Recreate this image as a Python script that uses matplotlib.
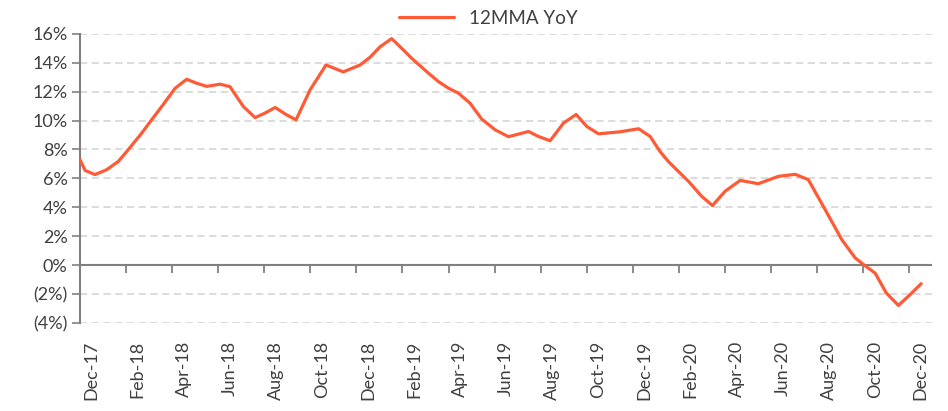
import matplotlib.pyplot as plt

# months since end of Nov-2017 (Dec-17 = 0.5, Dec-20 = 36.5)
month_pos = [0.00, 0.22, 0.65, 1.16, 1.66, 2.03, 2.68, 3.11, 3.55, 4.13,
             4.63, 5.06, 5.50, 6.08, 6.51, 7.09, 7.60, 8.03, 8.47, 8.97,
             9.38, 9.99, 10.68, 11.43, 12.16, 12.59, 13.03, 13.53, 13.96, 14.40,
             15.05, 15.56, 16.00, 16.43, 16.93, 17.44, 18.02, 18.60, 19.47, 19.90,
             20.41, 20.99, 21.54, 22.00, 22.51, 23.45, 24.25, 24.75, 25.18, 25.54,
             26.42, 26.99, 27.46, 28.00, 28.66, 29.45, 30.32, 31.05, 31.62, 32.35,
             33.07, 33.65, 34.01, 34.52, 35.00, 35.53, 35.97, 36.52]
yoy = [7.29, 6.55, 6.26, 6.60, 7.17, 7.86, 9.13, 10.05, 10.97, 12.23,
       12.85, 12.58, 12.36, 12.51, 12.34, 10.97, 10.20, 10.51, 10.90, 10.39,
       10.05, 12.12, 13.84, 13.36, 13.84, 14.37, 15.10, 15.66, 15.00, 14.30,
       13.38, 12.69, 12.23, 11.89, 11.20, 10.10, 9.36, 8.88, 9.24, 8.90,
       8.60, 9.82, 10.42, 9.59, 9.08, 9.22, 9.43, 8.90, 7.86, 7.17,
       5.79, 4.76, 4.12, 5.10, 5.86, 5.63, 6.14, 6.28, 5.91, 3.84,
       1.77, 0.51, 0.05, -0.55, -1.91, -2.78, -2.14, -1.28]

tick_labels = ["Dec-17", "Feb-18", "Apr-18", "Jun-18", "Aug-18", "Oct-18", "Dec-18",
               "Feb-19", "Apr-19", "Jun-19", "Aug-19", "Oct-19", "Dec-19",
               "Feb-20", "Apr-20", "Jun-20", "Aug-20", "Oct-20", "Dec-20"]
y_ticks = [-4, -2, 0, 2, 4, 6, 8, 10, 12, 14, 16]

plt.rcParams['font.family'] = ['Lato', 'DejaVu Sans']
axis_grey = '#808080'
text_col = '#404040'

fig = plt.figure(figsize=(9.48, 4.11), dpi=100)
ax = fig.add_axes([0.0844, 0.214, 0.899, 0.704])

ax.plot(month_pos, yoy, color='#FF5A36', lw=2.3, solid_capstyle='round',
        solid_joinstyle='round', label='12MMA YoY', zorder=3)

ax.set_xlim(0, 37)
ax.set_ylim(-4, 16)

# y axis
ax.set_yticks(y_ticks)
ax.set_yticklabels([f"{v}%" if v >= 0 else f"({-v}%)" for v in y_ticks])
ax.tick_params(axis='y', length=6, width=1.2, color=axis_grey, labelsize=13,
               labelcolor=text_col, pad=3)
ax.yaxis.grid(True, color='#d9d9d9', lw=1.3, linestyle=(0, (4, 2.5)))
ax.get_ygridlines()[y_ticks.index(0)].set_visible(False)
ax.spines['left'].set_color(axis_grey)
ax.spines['left'].set_linewidth(1.5)
for s in ['top', 'right', 'bottom']:
    ax.spines[s].set_visible(False)

# labels at bottom, centred on the month
ax.set_xticks([m + 0.5 for m in range(0, 37, 2)])
ax.set_xticklabels(tick_labels, rotation=90, fontsize=13, color=text_col)
ax.tick_params(axis='x', length=0, pad=13)

# category axis at zero with tick marks at month boundaries
ax.axhline(0, color=axis_grey, lw=1.5, zorder=2)
sec = ax.secondary_xaxis(0.2)
sec.set_xticks(range(0, 37, 2))
sec.tick_params(axis='x', direction='out', length=6, width=1.3, color=axis_grey,
                labelbottom=False)
sec.spines['bottom'].set_visible(False)

fig.legend(loc='center', bbox_to_anchor=(0.515, 0.955), frameon=False,
           fontsize=13.5, handlelength=2.9, labelcolor=text_col)

fig.savefig('out.png', dpi=100)
